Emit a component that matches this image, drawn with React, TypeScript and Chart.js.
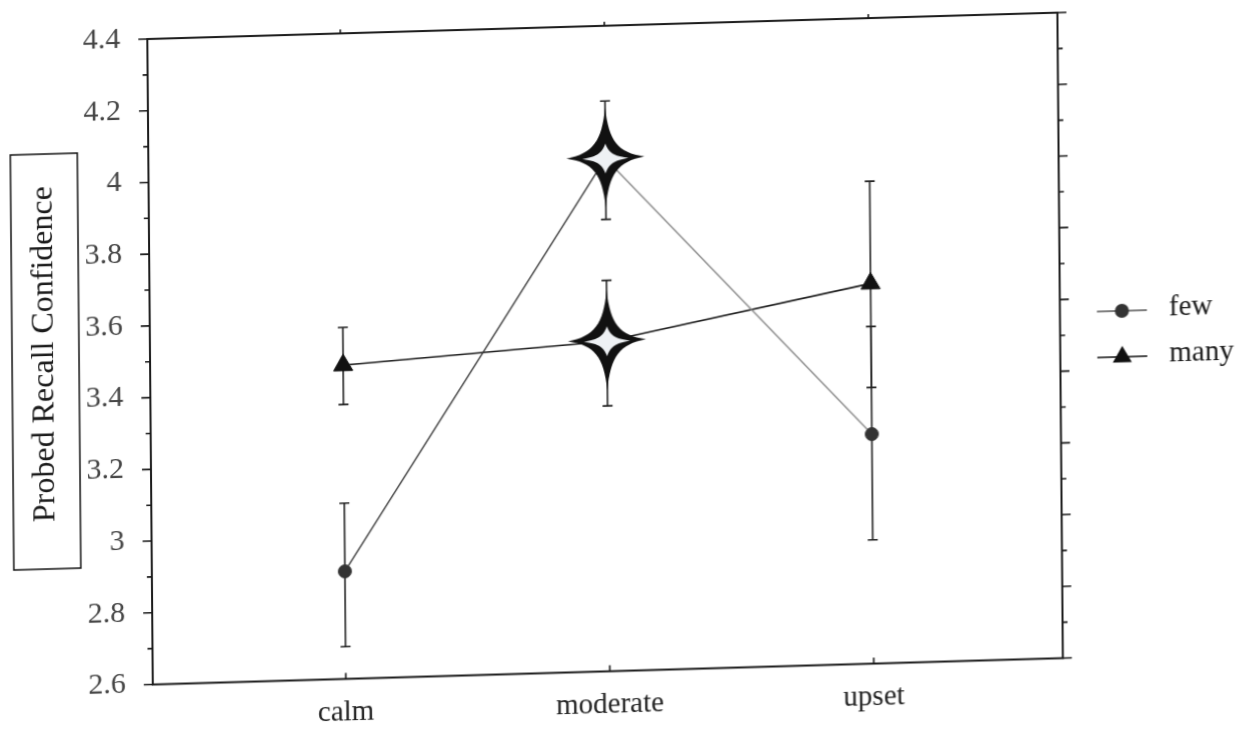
import { useEffect, useRef } from 'react';
import { Chart, registerables } from 'chart.js';

Chart.register(...registerables);

// ---- data ----
const categories = ['calm', 'moderate', 'upset'];
const yTicks = [2.6, 2.8, 3, 3.2, 3.4, 3.6, 3.8, 4, 4.2, 4.4];
const seriesNames = ['few', 'many'];
const fewMeans = [2.9, 4.03, 3.24];
const fewLow = [2.69, 3.86, 2.945];
const fewHigh = [3.09, 4.19, 3.54];
const manyMeans = [3.475, 3.52, 3.66];
const manyLow = [3.365, 3.34, 3.37];
const manyHigh = [3.58, 3.69, 3.945];
const starredCategories = ['moderate'];
const yTitle = 'Probed Recall Confidence';

const SERIF = "'Liberation Serif', 'DejaVu Serif', 'Times New Roman', serif";

function starPath(ctx: CanvasRenderingContext2D, cx: number, cy: number, hx: number, hy: number, a: number, b: number) {
  ctx.beginPath();
  ctx.moveTo(cx, cy - hy);
  ctx.bezierCurveTo(cx + hx * a, cy - hy * b, cx + hx * b, cy - hy * a, cx + hx, cy);
  ctx.bezierCurveTo(cx + hx * b, cy + hy * a, cx + hx * a, cy + hy * b, cx, cy + hy);
  ctx.bezierCurveTo(cx - hx * a, cy + hy * b, cx - hx * b, cy + hy * a, cx - hx, cy);
  ctx.bezierCurveTo(cx - hx * b, cy - hy * a, cx - hx * a, cy - hy * b, cx, cy - hy);
  ctx.closePath();
}

const framePlugin = {
  id: 'frameTicks',
  beforeDatasetsDraw(chart: any) {
    const { ctx, chartArea: ca, scales } = chart;
    const y = scales.y;
    const x = scales.x;
    ctx.save();
    ctx.strokeStyle = '#1a1a1a';
    ctx.lineWidth = 2;
    ctx.strokeRect(ca.left, ca.top, ca.right - ca.left, ca.bottom - ca.top);
    ctx.lineWidth = 1.6;
    const drawY = (v: number, len: number) => {
      const py = y.getPixelForValue(v);
      ctx.beginPath();
      ctx.moveTo(ca.left - len, py);
      ctx.lineTo(ca.left, py);
      ctx.moveTo(ca.right, py);
      ctx.lineTo(ca.right + len, py);
      ctx.stroke();
    };
    yTicks.forEach((v, i) => {
      drawY(v, 9);
      if (i < yTicks.length - 1) drawY((v + yTicks[i + 1]) / 2, 5);
    });
    categories.forEach((_, i) => {
      const px = x.getPixelForValue(i);
      ctx.beginPath();
      ctx.moveTo(px, ca.bottom);
      ctx.lineTo(px, ca.bottom - 6);
      ctx.moveTo(px, ca.top);
      ctx.lineTo(px, ca.top - 4);
      ctx.stroke();
    });
    ctx.restore();
  },
};

const errorBarPlugin = {
  id: 'errorBars',
  beforeDatasetsDraw(chart: any) {
    const { ctx, scales } = chart;
    const x = scales.x;
    const y = scales.y;
    ctx.save();
    ctx.strokeStyle = '#222';
    ctx.lineWidth = 1.6;
    chart.data.datasets.forEach((ds: any) => {
      ds.errLow.forEach((lo: number, i: number) => {
        const px = x.getPixelForValue(i);
        const y1 = y.getPixelForValue(lo);
        const y2 = y.getPixelForValue(ds.errHigh[i]);
        ctx.beginPath();
        ctx.moveTo(px, y1);
        ctx.lineTo(px, y2);
        ctx.moveTo(px - 5, y1);
        ctx.lineTo(px + 5, y1);
        ctx.moveTo(px - 5, y2);
        ctx.lineTo(px + 5, y2);
        ctx.stroke();
      });
    });
    ctx.restore();
  },
};

const starPlugin = {
  id: 'stars',
  afterDatasetsDraw(chart: any) {
    const { ctx } = chart;
    chart.data.datasets.forEach((_: any, di: number) => {
      const meta = chart.getDatasetMeta(di);
      starredCategories.forEach((cat) => {
        const idx = categories.indexOf(cat);
        const pt = meta.data[idx];
        if (!pt) return;
        ctx.save();
        ctx.fillStyle = '#111';
        starPath(ctx, pt.x, pt.y - 1, 39, 50, 0.09, 0.32);
        ctx.fill();
        ctx.fillStyle = '#eef1f4';
        starPath(ctx, pt.x, pt.y, 23, 15, 0.15, 0.36);
        ctx.fill();
        ctx.restore();
      });
    });
  },
};

const decorPlugin = {
  id: 'decor',
  afterDraw(chart: any) {
    const { ctx, chartArea: ca } = chart;
    ctx.save();
    ctx.strokeStyle = '#111';
    ctx.lineWidth = 1.5;
    ctx.strokeRect(9, 150, 67, 415);
    ctx.translate(42, 350);
    ctx.rotate(-Math.PI / 2);
    ctx.fillStyle = '#1a1a1a';
    ctx.font = `32px ${SERIF}`;
    ctx.textAlign = 'center';
    ctx.textBaseline = 'middle';
    ctx.fillText(yTitle, 0, 0);
    ctx.restore();

    ctx.save();
    const lx0 = ca.right + 37;
    const lx1 = ca.right + 87;
    const rows = [ca.top + 300, ca.top + 346];
    rows.forEach((ly, i) => {
      const ds = chart.data.datasets[i];
      ctx.strokeStyle = i === 0 ? '#555' : '#111';
      ctx.lineWidth = 1.5;
      ctx.beginPath();
      ctx.moveTo(lx0, ly);
      ctx.lineTo(lx1, ly);
      ctx.stroke();
      const cx = (lx0 + lx1) / 2;
      ctx.fillStyle = ds.pointBackgroundColor;
      ctx.beginPath();
      if (i === 0) {
        ctx.arc(cx, ly, 7, 0, Math.PI * 2);
      } else {
        const r = 11;
        ctx.moveTo(cx, ly - r);
        ctx.lineTo(cx + r * 0.866, ly + r * 0.5);
        ctx.lineTo(cx - r * 0.866, ly + r * 0.5);
        ctx.closePath();
      }
      ctx.fill();
      ctx.fillStyle = '#1a1a1a';
      ctx.font = `29px ${SERIF}`;
      ctx.textAlign = 'left';
      ctx.textBaseline = 'middle';
      ctx.fillText(seriesNames[i], lx1 + 22, ly - 2);
    });
    ctx.restore();
  },
};

export default function App() {
  const ref = useRef<HTMLCanvasElement>(null);

  useEffect(() => {
    document.body.style.margin = '0';
    document.body.style.overflow = 'hidden';
    document.documentElement.style.overflow = 'hidden';
    const canvas = ref.current;
    if (!canvas) return;
    const chart = new Chart(canvas, {
      type: 'line',
      data: {
        datasets: [
          {
            label: seriesNames[0],
            data: fewMeans.map((v, i) => ({ x: i, y: v })),
            errLow: fewLow,
            errHigh: fewHigh,
            borderColor: '#555',
            borderWidth: 1.4,
            pointStyle: 'circle',
            pointRadius: 6.5,
            pointBackgroundColor: '#333',
            pointBorderColor: '#333',
            pointBorderWidth: 1,
            segment: {
              borderColor: (c: any) => (c.p0DataIndex === 0 ? '#3a3a3a' : '#8a8a8a'),
            },
          } as any,
          {
            label: seriesNames[1],
            data: manyMeans.map((v, i) => ({ x: i, y: v })),
            errLow: manyLow,
            errHigh: manyHigh,
            borderColor: '#1a1a1a',
            borderWidth: 1.6,
            pointStyle: 'triangle',
            pointRadius: 11,
            pointBackgroundColor: '#111',
            pointBorderColor: '#111',
            pointBorderWidth: 1,
          } as any,
        ],
      },
      options: {
        responsive: false,
        animation: false,
        font: { family: SERIF },
        layout: { padding: { top: 38, left: 0, right: 0, bottom: 0 } },
        plugins: {
          legend: { display: false },
          tooltip: { enabled: false },
        },
        scales: {
          x: {
            type: 'linear',
            position: 'bottom',
            min: -0.731,
            max: 2.716,
            afterBuildTicks: (s: any) => {
              s.ticks = categories.map((_, i) => ({ value: i }));
            },
            afterFit: (s: any) => {
              s.height = 49.5;
              s.paddingLeft = 0;
              s.paddingRight = 0;
            },
            grid: { display: false, drawTicks: false },
            border: { display: false },
            ticks: {
              callback: (v: any) => categories[Math.round(Number(v))] ?? '',
              font: { family: SERIF, size: 29 },
              color: '#222',
              padding: 16,
              maxRotation: 0,
              autoSkip: false,
            },
          },
          y: {
            type: 'linear',
            position: 'left',
            min: 2.6,
            max: 4.4,
            afterBuildTicks: (s: any) => {
              s.ticks = yTicks.map((v) => ({ value: v }));
            },
            afterFit: (s: any) => {
              s.width = 147;
              s.paddingTop = 0;
              s.paddingBottom = 0;
            },
            grid: { display: false, drawTicks: false },
            border: { display: false },
            ticks: {
              callback: (v: any) => String(Math.round(Number(v) * 10) / 10),
              font: { family: SERIF, size: 30 },
              color: '#444',
              padding: 27,
            },
          },
          y2: {
            type: 'linear',
            position: 'right',
            display: true,
            min: 2.6,
            max: 4.4,
            afterFit: (s: any) => {
              s.width = 186;
              s.paddingTop = 0;
              s.paddingBottom = 0;
            },
            grid: { display: false, drawTicks: false },
            border: { display: false },
            ticks: { display: false },
          },
        },
      } as any,
      plugins: [framePlugin, errorBarPlugin, starPlugin, decorPlugin],
    });
    return () => chart.destroy();
  }, []);

  return (
    <div style={{ width: 1243, height: 733, background: '#fff' }}>
      <canvas
        ref={ref}
        width={1243}
        height={733}
        style={{
          display: 'block',
          transform: 'matrix(1, -0.029, 0.0085, 1, 0, 5.25)',
          transformOrigin: '0 0',
        }}
      />
    </div>
  );
}
